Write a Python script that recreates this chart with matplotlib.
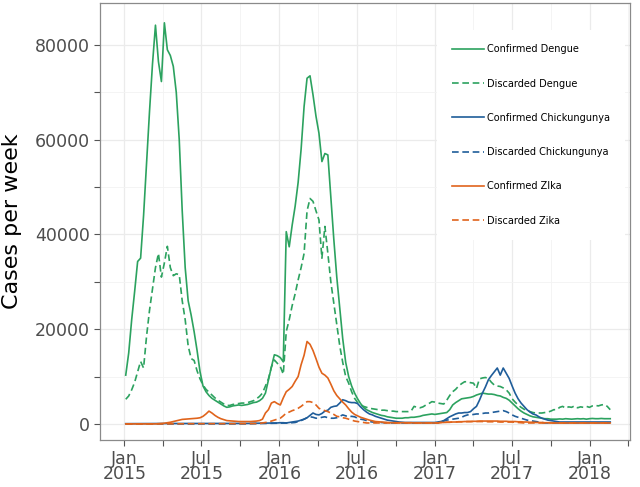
import matplotlib
matplotlib.use("Agg")
import matplotlib.pyplot as plt
import matplotlib.dates as mdates
import pandas as pd
from matplotlib.ticker import MultipleLocator

# weekly case counts, first week starting 2015-01-04
start_date = "2015-01-04"

confirmed_dengue = [
    10300, 15000, 22000, 28000, 34300, 35000, 44000, 55000, 66000, 76000,
    84200, 76500, 72300, 84700, 79000, 77800, 75500, 70000, 60000, 45000,
    33000, 26000, 23000, 19500, 15500, 11000, 8000, 6800, 6000, 5400,
    5000, 4600, 4200, 3800, 3500, 3600, 3800, 3900, 4000, 3900,
    4000, 4100, 4300, 4500, 4600, 4900, 5400, 6500, 9300, 12000,
    14600, 14400, 14000, 13100, 40600, 37400, 42000, 46000, 51000, 58000,
    67000, 73000, 73500, 69500, 65000, 61400, 55400, 57100, 56800, 48000,
    39000, 31000, 24500, 18000, 13000, 10000, 8000, 6500, 5300, 4300,
    3500, 3000, 2700, 2400, 2200, 2000, 1800, 1700, 1500, 1400,
    1300, 1200, 1200, 1200, 1300, 1300, 1400, 1400, 1500, 1600,
    1800, 1900, 2000, 2100, 2000, 2100, 2200, 2300, 2400, 3000,
    4000, 4500, 4900, 5300, 5400, 5500, 5600, 5800, 6100, 6300,
    6500, 6400, 6300, 6300, 6200, 6000, 5900, 5600, 5400, 5000,
    4400, 3800, 3200, 2700, 2300, 2000, 1700, 1500, 1400, 1300,
    1200, 1100, 1100, 1000, 1000, 1000, 1050, 1000, 1100, 1050,
    1000, 1050, 1100, 1050, 1100, 1000, 1100, 1150, 1100, 1100,
    1150, 1100, 1100, 1100,
]

discarded_dengue = [
    5200, 5900, 7200, 8800, 11000, 13200, 11800, 18500, 24000, 28500,
    33000, 36000, 31000, 34000, 37500, 33000, 31300, 31700, 31500, 26000,
    22000, 16500, 13800, 13400, 11200, 9500, 8200, 7300, 6700, 6100,
    5500, 5000, 4600, 4200, 3900, 3900, 4100, 4200, 4300, 4400,
    4400, 4500, 4700, 4900, 5300, 5800, 6500, 8000, 9500, 12000,
    13500, 12800, 12100, 10500, 19500, 22000, 25000, 27500, 30400, 33000,
    36000, 45000, 47600, 47000, 45000, 43100, 35000, 41700, 36000, 30000,
    25500, 21000, 16500, 13000, 10000, 8600, 6800, 5400, 4500, 4000,
    3700, 3500, 3300, 3200, 3100, 3000, 2900, 2900, 2800, 2700,
    2700, 2600, 2600, 2600, 2600, 2600, 2700, 3700, 3500, 3400,
    3600, 4000, 4300, 4700, 4600, 4400, 4300, 4200, 5000, 6000,
    6800, 7300, 8000, 8500, 8900, 8900, 8700, 8600, 7500, 9500,
    9700, 9800, 9600, 8800, 8200, 8000, 7900, 7600, 7200, 6500,
    5300, 4600, 4000, 3500, 3100, 2900, 2600, 2400, 2300, 2300,
    2300, 2400, 2500, 2700, 3000, 3000, 3500, 3700, 3300, 3600,
    3500, 3800, 3400, 3600, 3500, 3700, 3500, 3800, 3900, 3800,
    4000, 4100, 3700, 3000,
]

confirmed_chik = [
    50, 50, 50, 60, 60, 60, 70, 70, 70, 80,
    80, 80, 80, 80, 80, 80, 80, 80, 80, 80,
    80, 80, 80, 80, 80, 80, 80, 80, 80, 80,
    80, 80, 80, 80, 80, 80, 80, 80, 80, 80,
    100, 100, 120, 120, 140, 150, 150, 170, 180, 200,
    200, 200, 250, 250, 200, 300, 400, 500, 600, 800,
    1000, 1300, 1800, 2300, 2000, 1900, 2200, 2700, 2900, 3500,
    3700, 3800, 4400, 5100, 4900, 4600, 4500, 4500, 4300, 3600,
    3000, 2500, 2100, 1900, 1600, 1400, 1200, 1000, 800, 700,
    600, 500, 400, 350, 300, 300, 300, 300, 300, 300,
    300, 300, 300, 300, 300, 400, 500, 700, 1100, 1500,
    1800, 2100, 2300, 2300, 2400, 2400, 2600, 3200, 3700, 5000,
    6500, 7800, 9300, 10200, 11000, 11800, 10300, 11800, 10700, 9600,
    8000, 6500, 5300, 4400, 3700, 3000, 2500, 2100, 1900, 1500,
    1200, 1000, 800, 700, 600, 500, 400, 400, 400, 400,
    400, 400, 400, 400, 400, 400, 400, 400, 400, 400,
    400, 400, 400, 400,
]

discarded_chik = [
    0, 0, 0, 0, 0, 0, 0, 0, 0, 0,
    0, 0, 0, 0, 0, 0, 0, 0, 0, 0,
    0, 0, 0, 0, 0, 0, 0, 0, 0, 0,
    0, 0, 0, 0, 0, 0, 0, 0, 0, 0,
    20, 30, 40, 50, 60, 70, 80, 90, 100, 100,
    100, 120, 140, 160, 180, 200, 250, 300, 500, 700,
    1000, 1300, 1500, 1400, 1200, 1200, 1400, 1500, 1300, 1200,
    1200, 1300, 1600, 1900, 1700, 1500, 1600, 1500, 1200, 1000,
    900, 700, 500, 400, 350, 300, 300, 250, 250, 200,
    200, 200, 200, 200, 200, 200, 200, 200, 200, 200,
    200, 200, 200, 200, 200, 200, 400, 600, 800, 900,
    1000, 1100, 1200, 1400, 1700, 1900, 1900, 2000, 2100, 2100,
    2200, 2300, 2300, 2400, 2500, 2600, 2700, 2800, 2600, 2300,
    1900, 1600, 1400, 1200, 1000, 800, 700, 600, 500, 400,
    300, 200, 200, 200, 200, 200, 200, 200, 200, 200,
    200, 200, 200, 200, 200, 200, 200, 200, 200, 200,
    200, 200, 200, 200,
]

confirmed_zika = [
    0, 0, 0, 0, 0, 0, 0, 0, 0, 0,
    0, 50, 100, 150, 250, 350, 500, 650, 800, 950,
    1000, 1050, 1100, 1150, 1200, 1300, 1600, 2100, 2700, 2300,
    1800, 1400, 1100, 900, 700, 650, 600, 550, 500, 500,
    500, 500, 500, 550, 600, 700, 1000, 2300, 3000, 4400,
    4700, 4300, 4000, 5500, 6800, 7300, 7900, 9000, 10000, 12500,
    14500, 17400, 16800, 15500, 13800, 12000, 10700, 10300, 9700, 8400,
    7000, 6000, 5300, 4600, 4000, 3200, 2500, 2000, 1700, 1400,
    1200, 1000, 800, 650, 500, 450, 400, 350, 300, 250,
    250, 250, 250, 250, 250, 250, 250, 200, 200, 200,
    200, 200, 200, 200, 200, 200, 300, 300, 350, 350,
    400, 400, 450, 450, 500, 500, 500, 550, 550, 600,
    600, 600, 600, 600, 600, 600, 550, 550, 550, 500,
    500, 500, 450, 450, 400, 400, 350, 350, 300, 300,
    300, 250, 250, 250, 200, 200, 200, 200, 200, 200,
    200, 200, 200, 200, 200, 200, 200, 200, 200, 200,
    200, 200, 200, 200,
]

discarded_zika = [
    0, 0, 0, 0, 0, 0, 0, 0, 0, 0,
    0, 0, 0, 0, 0, 0, 20, 20, 30, 30,
    30, 40, 40, 40, 40, 50, 50, 50, 50, 50,
    50, 50, 50, 50, 50, 50, 50, 50, 50, 50,
    50, 50, 60, 70, 80, 100, 200, 300, 400, 600,
    800, 1000, 1200, 1700, 2300, 2500, 2800, 3000, 3300, 3700,
    4200, 4700, 4700, 4500, 4000, 3300, 3000, 2800, 2600, 2300,
    2000, 1600, 1500, 1300, 1200, 1000, 800, 600, 500, 400,
    300, 200, 200, 200, 200, 200, 200, 200, 200, 200,
    200, 200, 200, 200, 200, 200, 200, 200, 200, 200,
    200, 200, 200, 200, 200, 200, 300, 300, 350, 350,
    400, 400, 450, 450, 450, 500, 500, 500, 500, 500,
    500, 500, 450, 450, 450, 450, 400, 400, 400, 400,
    400, 350, 300, 250, 200, 200, 200, 200, 200, 200,
    200, 200, 200, 200, 200, 200, 200, 200, 200, 200,
    200, 200, 200, 200, 200, 200, 200, 200, 200, 200,
    200, 200, 200, 200,
]

GREEN = "#2ca25f"
BLUE = "#1f5d9a"
ORANGE = "#e0641c"
DASH = (0, (4, 2.2))

weeks = pd.date_range(start_date, periods=len(confirmed_dengue), freq="7D")

series = [
    ("Confirmed Dengue", confirmed_dengue, GREEN, "-"),
    ("Discarded Dengue", discarded_dengue, GREEN, DASH),
    ("Confirmed Chickungunya", confirmed_chik, BLUE, "-"),
    ("Discarded Chickungunya", discarded_chik, BLUE, DASH),
    ("Confirmed ZIka", confirmed_zika, ORANGE, "-"),
    ("Discarded Zika", discarded_zika, ORANGE, DASH),
]

fig = plt.figure(figsize=(6.4, 4.87), dpi=100)
ax = fig.add_axes([0.156, 0.0965, 0.828, 0.8975])

for label, values, color, ls in series:
    ax.plot(weeks, values, color=color, linestyle=ls, linewidth=1.2, label=label)

ax.set_xlim(pd.Timestamp("2014-11-04"), pd.Timestamp("2018-04-05"))
ax.set_ylim(-3400, 88900)

ax.yaxis.set_major_locator(MultipleLocator(20000))
ax.yaxis.set_minor_locator(MultipleLocator(10000))
ax.xaxis.set_major_locator(mdates.MonthLocator(bymonth=[1, 7]))
ax.xaxis.set_minor_locator(mdates.MonthLocator(bymonth=[4, 10]))
ax.xaxis.set_major_formatter(mdates.DateFormatter("%b\n%Y"))

ax.grid(which="major", color="#ebebeb", linewidth=0.9)
ax.grid(which="minor", color="#f3f3f3", linewidth=0.6)
ax.set_axisbelow(True)

for sp in ax.spines.values():
    sp.set_color("#8a8a8a")
    sp.set_linewidth(0.9)

ax.tick_params(which="both", direction="out", color="#555555", length=4, width=0.8)
ax.tick_params(axis="both", which="major", labelsize=12.5, labelcolor="#4d4d4d", pad=3)
for t in ax.get_xticklabels():
    t.set_linespacing(0.8)

ax.set_ylabel("Cases per week", fontsize=16, color="black", labelpad=9)

leg = ax.legend(loc="upper right", bbox_to_anchor=(1.0, 0.95), fontsize=7,
                handlelength=3.3, handletextpad=0.35, labelspacing=2.5,
                borderpad=1.5, frameon=True, fancybox=False)
leg.get_frame().set_facecolor("white")
leg.get_frame().set_edgecolor("none")
leg.get_frame().set_alpha(1)

fig.savefig("out.png", dpi=100)
